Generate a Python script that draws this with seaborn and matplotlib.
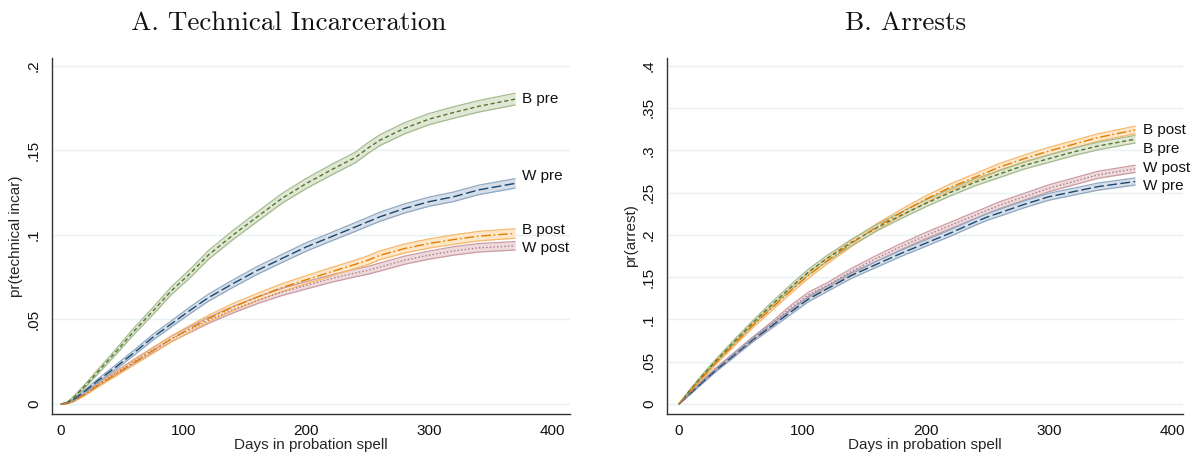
import numpy as np
import pandas as pd
import matplotlib
matplotlib.use("Agg")
import matplotlib.pyplot as plt
import seaborn as sns

# Days since the start of the probation spell
days = [0, 5, 10, 20, 30, 45, 60, 75, 90, 105, 120, 140, 160, 180, 200,
        220, 240, 250, 260, 280, 300, 320, 340, 370]

groups = ["B pre", "W pre", "B post", "W post"]

# A. Technical incarceration: cumulative probability
tech_b_pre = [0, 0.0008, 0.0036, 0.011, 0.019, 0.031, 0.0435, 0.055, 0.067, 0.077,
              0.088, 0.0998, 0.1107, 0.1215, 0.1304, 0.1383, 0.1458, 0.1512, 0.156,
              0.163, 0.1684, 0.1723, 0.1759, 0.1802]
tech_w_pre = [0, 0.0006, 0.0024, 0.0079, 0.0138, 0.022, 0.0306, 0.0395, 0.0474, 0.0553,
              0.0628, 0.0711, 0.079, 0.086, 0.0929, 0.0988, 0.1047, 0.1077, 0.1107,
              0.1156, 0.1196, 0.1225, 0.1265, 0.1304]
tech_b_post = [0, 0.0004, 0.0016, 0.0059, 0.0109, 0.0178, 0.0247, 0.0316, 0.0385, 0.0445,
               0.0504, 0.0573, 0.0632, 0.0688, 0.0735, 0.0781, 0.0826, 0.085, 0.0879,
               0.0919, 0.0949, 0.0972, 0.0992, 0.1008]
tech_w_post = [0, 0.0004, 0.0018, 0.0063, 0.0115, 0.0184, 0.0253, 0.032, 0.0385, 0.0439,
               0.0494, 0.0557, 0.0613, 0.0662, 0.0702, 0.0741, 0.0775, 0.079, 0.081,
               0.085, 0.088, 0.0905, 0.0923, 0.0935]

# 95% band half-widths, technical incarceration
tech_b_pre_ci = [0, 0.0003, 0.0006, 0.001, 0.0013, 0.0016, 0.0019, 0.0021, 0.0023, 0.0025,
                 0.0026, 0.0027, 0.0028, 0.0029, 0.003, 0.0031, 0.0031, 0.0032, 0.0032,
                 0.0033, 0.0033, 0.0034, 0.0034, 0.0035]
tech_w_pre_ci = [0, 0.0003, 0.0005, 0.0008, 0.001, 0.0013, 0.0015, 0.0017, 0.0018, 0.002,
                 0.0021, 0.0022, 0.0023, 0.0024, 0.0025, 0.0025, 0.0026, 0.0026, 0.0027,
                 0.0027, 0.0027, 0.0028, 0.0028, 0.0028]
tech_b_post_ci = [0, 0.0002, 0.0004, 0.0007, 0.0009, 0.0012, 0.0014, 0.0016, 0.0018, 0.0019,
                  0.002, 0.0021, 0.0022, 0.0023, 0.0024, 0.0025, 0.0025, 0.0026, 0.0026,
                  0.0027, 0.0027, 0.0028, 0.0028, 0.0028]
tech_w_post_ci = [0, 0.0002, 0.0004, 0.0007, 0.0009, 0.0011, 0.0013, 0.0015, 0.0016, 0.0017,
                  0.0018, 0.0019, 0.002, 0.0021, 0.0022, 0.0022, 0.0023, 0.0023, 0.0024,
                  0.0024, 0.0024, 0.0025, 0.0025, 0.0025]

# B. Arrests: cumulative probability
arr_b_pre = [0, 0.009, 0.018, 0.035, 0.051, 0.074, 0.096, 0.117, 0.137, 0.156,
             0.172, 0.191, 0.208, 0.223, 0.237, 0.250, 0.262, 0.267, 0.272, 0.282,
             0.290, 0.298, 0.305, 0.313]
arr_w_pre = [0, 0.0068, 0.0135, 0.027, 0.040, 0.058, 0.076, 0.092, 0.108, 0.124,
             0.136, 0.152, 0.165, 0.178, 0.190, 0.202, 0.215, 0.221, 0.226, 0.236,
             0.245, 0.251, 0.257, 0.263]
arr_b_post = [0, 0.0085, 0.017, 0.033, 0.049, 0.071, 0.093, 0.113, 0.133, 0.152,
              0.169, 0.190, 0.209, 0.226, 0.242, 0.256, 0.268, 0.274, 0.280, 0.290,
              0.299, 0.307, 0.315, 0.324]
arr_w_post = [0, 0.007, 0.014, 0.028, 0.041, 0.059, 0.077, 0.094, 0.113, 0.129,
              0.140, 0.157, 0.172, 0.186, 0.199, 0.211, 0.223, 0.229, 0.235, 0.245,
              0.255, 0.263, 0.271, 0.278]

# 95% band half-widths, arrests
arr_b_pre_ci = [0, 0.0008, 0.0012, 0.0017, 0.002, 0.0024, 0.0027, 0.003, 0.0032, 0.0034,
                0.0035, 0.0037, 0.0038, 0.0039, 0.004, 0.0041, 0.0042, 0.0042, 0.0043,
                0.0043, 0.0044, 0.0044, 0.0045, 0.0045]
arr_w_pre_ci = [0, 0.0007, 0.001, 0.0015, 0.0018, 0.0022, 0.0025, 0.0027, 0.0029, 0.0031,
                0.0032, 0.0034, 0.0035, 0.0036, 0.0037, 0.0038, 0.0039, 0.0039, 0.004,
                0.004, 0.0041, 0.0041, 0.0042, 0.0042]
arr_b_post_ci = [0, 0.0008, 0.0012, 0.0017, 0.002, 0.0024, 0.0027, 0.003, 0.0032, 0.0034,
                 0.0035, 0.0037, 0.0038, 0.0039, 0.004, 0.0041, 0.0042, 0.0042, 0.0043,
                 0.0043, 0.0044, 0.0044, 0.0045, 0.0045]
arr_w_post_ci = [0, 0.0007, 0.001, 0.0015, 0.0018, 0.0022, 0.0025, 0.0027, 0.0029, 0.0031,
                 0.0032, 0.0034, 0.0035, 0.0036, 0.0037, 0.0038, 0.0039, 0.0039, 0.004,
                 0.004, 0.0041, 0.0041, 0.0042, 0.0042]

# Label heights at the right end of each curve
tech_label_y = {"B pre": 0.1800, "W pre": 0.1345, "B post": 0.1030, "W post": 0.0923}
arr_label_y = {"B post": 0.3234, "B pre": 0.3014, "W post": 0.2789, "W pre": 0.2580}

line_colors = {"B pre": "#55752f", "W pre": "#1a476f", "B post": "#e37e00", "W post": "#b07880"}
band_fill = {"B pre": "#dfe7d5", "W pre": "#d6dfe9", "B post": "#fde7c9", "W post": "#eddadd"}
band_edge = {"B pre": "#a5bb8e", "W pre": "#90a8c2", "B post": "#f7b86c", "W post": "#cb9ca2"}
dash_styles = {"B pre": (3, 2), "W pre": (7, 2.5), "B post": (7, 2, 1.2, 2), "W post": (1, 1.6)}


def long_table(series, bands):
    rows = []
    for g in groups:
        for d, v, h in zip(days, series[g], bands[g]):
            rows.append({"group": g, "day": d, "value": v, "lo": v - h, "hi": v + h})
    return pd.DataFrame(rows)


tech_df = long_table(
    {"B pre": tech_b_pre, "W pre": tech_w_pre, "B post": tech_b_post, "W post": tech_w_post},
    {"B pre": tech_b_pre_ci, "W pre": tech_w_pre_ci, "B post": tech_b_post_ci, "W post": tech_w_post_ci},
)
arr_df = long_table(
    {"B pre": arr_b_pre, "W pre": arr_w_pre, "B post": arr_b_post, "W post": arr_w_post},
    {"B pre": arr_b_pre_ci, "W pre": arr_w_pre_ci, "B post": arr_b_post_ci, "W post": arr_w_post_ci},
)

sns.set_theme(style="white")
plt.rcParams["font.family"] = ["Liberation Sans", "DejaVu Sans"]

fig = plt.figure(figsize=(11.95, 4.58), dpi=100)
axA = fig.add_axes([52 / 1195, 44 / 458, 518 / 1195, 356 / 458])
axB = fig.add_axes([667 / 1195, 44 / 458, 516 / 1195, 356 / 458])

band_order = ["W post", "B post", "W pre", "B pre"]
FS = 11


def draw_panel(ax, df, label_y, yticks, yticklabels, ylim, xlim, ylabel):
    ax.set_axisbelow(True)
    for y in yticks:
        ax.axhline(y, color="#e8f0f2", lw=1.0, zorder=0)
    for g in band_order:
        sub = df[df["group"] == g]
        ax.fill_between(sub["day"], sub["lo"], sub["hi"], color=band_fill[g], lw=0, zorder=1)
        ax.plot(sub["day"], sub["lo"], color=band_edge[g], lw=0.9, zorder=1.5)
        ax.plot(sub["day"], sub["hi"], color=band_edge[g], lw=0.9, zorder=1.5)
    sns.lineplot(data=df, x="day", y="value", hue="group", style="group",
                 hue_order=groups, style_order=groups, palette=line_colors,
                 dashes=dash_styles, linewidth=1.0, legend=False, errorbar=None,
                 estimator=None, ax=ax, zorder=3)
    for g, y in label_y.items():
        ax.text(376, y, g, fontsize=FS, ha="left", va="center", color="#111111")
    ax.set_xlim(*xlim)
    ax.set_ylim(*ylim)
    ax.set_xticks([0, 100, 200, 300, 400])
    ax.set_xticklabels(["0", "100", "200", "300", "400"], fontsize=FS)
    ax.set_yticks(yticks)
    ax.set_yticklabels(yticklabels, fontsize=FS, rotation=90, va="center")
    ax.set_xlabel("Days in probation spell", fontsize=FS, labelpad=0)
    ax.set_ylabel(ylabel, fontsize=FS, labelpad=3)
    for side in ("top", "right"):
        ax.spines[side].set_visible(False)
    for side in ("left", "bottom"):
        ax.spines[side].set_color("#333333")
        ax.spines[side].set_linewidth(1.0)
    ax.tick_params(axis="both", direction="out", length=5, width=0.9, color="#333333",
                   labelcolor="#111111", pad=2)
    ax.tick_params(axis="y", pad=3)
    ax.grid(False)


draw_panel(axA, tech_df, tech_label_y,
           [0, 0.05, 0.1, 0.15, 0.2], ["0", ".05", ".1", ".15", ".2"],
           (-0.0059, 0.2045), (-7.3, 414.7), "pr(technical incar)")
draw_panel(axB, arr_df, arr_label_y,
           [0, 0.05, 0.1, 0.15, 0.2, 0.25, 0.3, 0.35, 0.4],
           ["0", ".05", ".1", ".15", ".2", ".25", ".3", ".35", ".4"],
           (-0.0118, 0.409), (-9.7, 408.8), "pr(arrest)")

fig.text(289 / 1195, 1 - 23 / 458, "A. Technical Incarceration", family="cmr10",
         fontsize=19.5, ha="center", va="center", color="#111111")
fig.text(906 / 1195, 1 - 23 / 458, "B. Arrests", family="cmr10",
         fontsize=19.5, ha="center", va="center", color="#111111")

fig.savefig("out.png", dpi=100, facecolor="white")
